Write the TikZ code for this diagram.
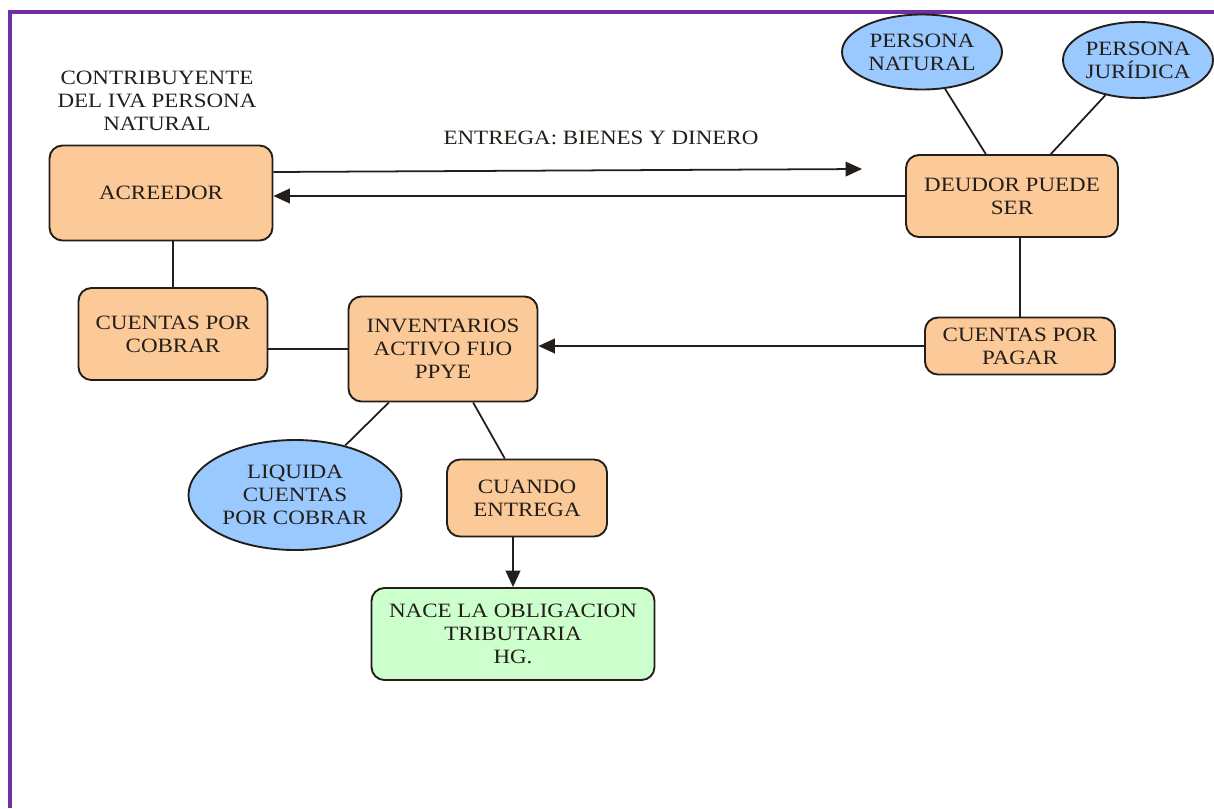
\documentclass[tikz,border=0pt]{standalone}
\usepackage{fontspec}
\setmainfont[FakeStretch=1.13]{Liberation Serif}
\usetikzlibrary{arrows.meta,shapes.geometric,calc}
\definecolor{framepurple}{RGB}{112,48,160}
\definecolor{boxorange}{RGB}{252,201,152}
\definecolor{boxblue}{RGB}{153,201,255}
\definecolor{boxgreen}{RGB}{204,255,204}
\definecolor{ink}{RGB}{35,30,25}
\begin{document}
\begin{tikzpicture}[x=0.85pt,y=-0.85pt,
  every node/.style={font=\fontsize{17.3}{19.5}\selectfont, text=ink, align=center, inner sep=0pt},
  sz/.style 2 args={minimum width=#1*0.85pt, minimum height=#2*0.85pt},
  card/.style={draw=ink, line width=1.6pt, rounded corners=11pt, fill=boxorange},
  greencard/.style={card, fill=boxgreen},
  bubble/.style={draw=ink, line width=1.6pt, ellipse, fill=boxblue},
  link/.style={draw=ink, line width=1.5pt},
  arrow/.style={link, -{Triangle[length=14pt,width=12.5pt]}}]
\useasboundingbox (0,0) rectangle (1214,808);
\fill[white] (0,0) rectangle (1214,808);

% frame along top and left edges
\draw[framepurple, line width=3.4pt] (9.5,808) -- (9.5,11.5) -- (1214,11.5);

% nodes
\node (title) at (157,101) {CONTRIBUYENTE\\DEL IVA PERSONA\\NATURAL};
\node[card, sz={223}{95}] (acre) at (161,193) {ACREEDOR};
\node (give) at (601,138) {ENTREGA: BIENES Y DINERO};
\node[card, sz={212}{82}] (deud) at (1012,196) {DEUDOR PUEDE\\SER};
\node[bubble, sz={160}{75}] (pn) at (922,52) {PERSONA\\NATURAL};
\node[bubble, sz={150}{76}] (pj) at (1138,60) {PERSONA\\JURÍDICA};
\node[card, sz={190}{57}] (cxp) at (1020,346) {CUENTAS POR\\PAGAR};
\node[card, sz={189}{105}] (inv) at (443,349) {INVENTARIOS\\ACTIVO FIJO\\PPYE};
\node[card, sz={189}{92}] (cxc) at (173,334) {CUENTAS POR\\COBRAR};
\node[bubble, sz={213}{110}] (liq) at (295,495) {LIQUIDA\\CUENTAS\\POR COBRAR};
\node[card, sz={160}{77}] (cuando) at (527,498) {CUANDO\\ENTREGA};
\node[greencard, sz={283}{92}] (nace) at (513,634) {NACE LA OBLIGACION\\TRIBUTARIA\\HG.};
\coordinate (giveend) at (862,169);

% connectors
\draw[arrow] ($(acre.east)+(0,-21)$) -- (giveend);
\draw[arrow] (deud.west) -- (deud.west -| acre.east);
\draw[link] (pn) -- (deud);
\draw[link] (pj) -- (deud);
\draw[link] (cxp.north) -- (cxp.north |- deud.south);
\draw[arrow] (cxp.west) -- (inv.east |- cxp.west);
\draw[link] (cxc.north) -- (cxc.north |- acre.south);
\draw[link] (inv.west) -- (inv.west -| cxc.east);
\draw[link] (inv) -- (liq);
\draw[link] (inv) -- (cuando);
\draw[arrow] (cuando.south -| nace.north) -- (nace.north);
\end{tikzpicture}
\end{document}
